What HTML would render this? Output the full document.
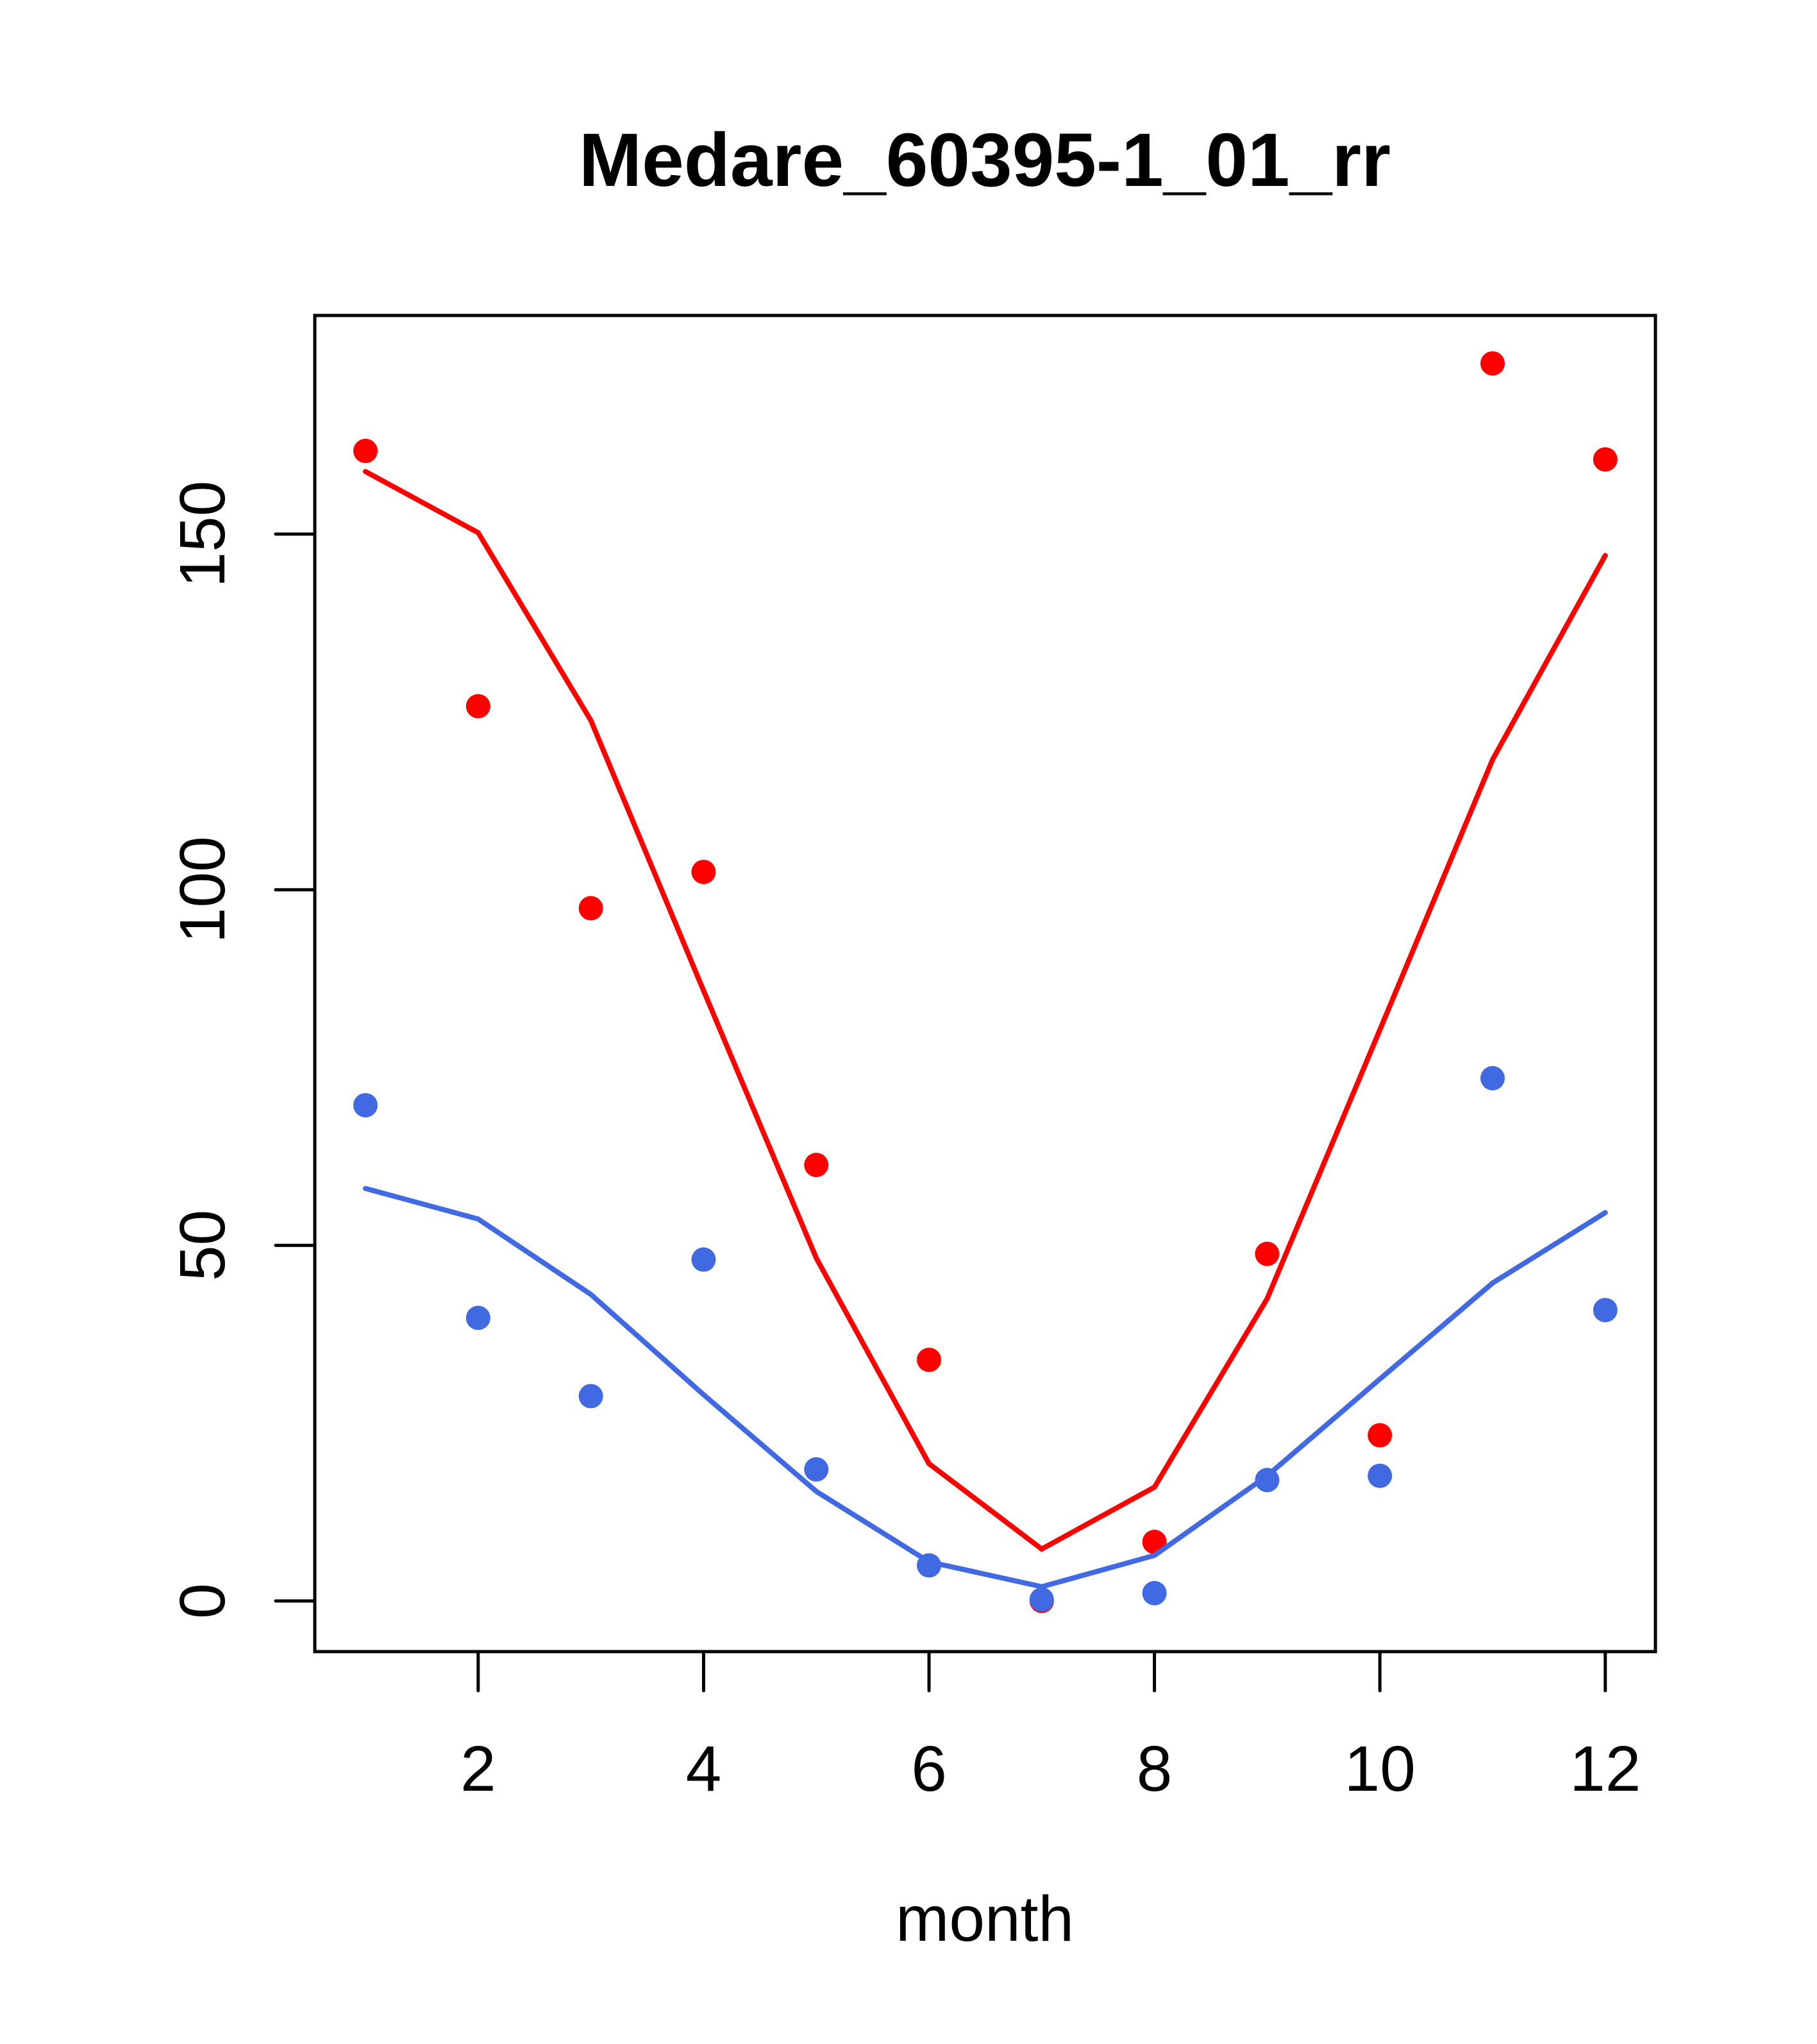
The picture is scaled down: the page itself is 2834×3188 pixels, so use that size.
<!DOCTYPE html>
<html><head><meta charset="utf-8"><style>html,body{margin:0;padding:0;background:#fff}svg{display:block}</style></head>
<body>
<svg id="chart" width="2834" height="3188" viewBox="0 0 2834 3188" xmlns="http://www.w3.org/2000/svg" font-family="'Liberation Sans', Arial, sans-serif">
<rect width="2834" height="3188" fill="#fff"/>
<text x="1536" y="290" text-anchor="middle" font-size="118" font-weight="bold">Medare_60395-1_01_rr</text>
<text x="1536" y="3027" text-anchor="middle" font-size="100">month</text>
<g id="plot"></g>
</svg>
<script>
const months = [1,2,3,4,5,6,7,8,9,10,11,12];
const redPoints = [161.7,125.8,97.4,102.5,61.3,33.9,0,8.3,48.8,23.3,174,160.5];
const redLine = [158.8,150.2,123.8,85.8,48.2,19.3,7.3,16,42.5,80.3,118.3,147];
const bluePoints = [69.7,39.8,28.8,48,18.5,5,0.2,1.1,17,17.6,73.5,40.9];
const blueLine = [58,53.7,43.1,29,15.4,5.5,2,6.4,17.6,31.2,44.7,54.6];
const xTicks = [2,4,6,8,10,12];
const yTicks = [0,50,100,150];

const NS = 'http://www.w3.org/2000/svg';
const g = document.getElementById('plot');
function X(m){ return 570 + (m-1)*175.8; }
function Y(v){ return 2497 - v*11.093; }
function mk(tag, attrs){ const e=document.createElementNS(NS,tag); for(const k in attrs) e.setAttribute(k,attrs[k]); g.appendChild(e); return e; }

const box = mk('rect',{x:491,y:492,width:2091,height:2084,fill:'none',stroke:'#000','stroke-width':5});



xTicks.forEach(t=>{
  const l = mk('line',{x1:X(t),x2:X(t),y1:2576,y2:2637,stroke:'#000','stroke-width':5,'stroke-linecap':'round'});
  
  
  const tx = mk('text',{x:X(t),y:2793,'text-anchor':'middle','font-size':100});
  tx.textContent = t;
  
  
});
yTicks.forEach(t=>{
  const l = mk('line',{x1:430,x2:491,y1:Y(t),y2:Y(t),stroke:'#000','stroke-width':5,'stroke-linecap':'round'});
  
  
  const tx = mk('text',{x:0,y:0,'text-anchor':'middle','font-size':100,transform:`translate(350,${Y(t)}) rotate(-90)`});
  tx.textContent = t;
  
  
});

function series(line, pts, color, name){
  const p = mk('polyline',{points:months.map((m,i)=>X(m)+','+Y(line[i])).join(' '),fill:'none',stroke:color,'stroke-width':8,'stroke-linecap':'round','stroke-linejoin':'miter'});
  
  
  months.forEach((m,i)=>{
    const c = mk('circle',{cx:X(m),cy:Y(pts[i]),r:19,fill:color});
    
    
  });
}
series(redLine, redPoints, '#ff0000', 'red');
series(blueLine, bluePoints, '#4169e1', 'blue');
</script>
</body></html>
